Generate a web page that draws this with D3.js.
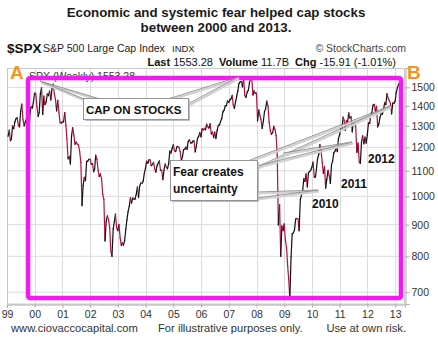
<!DOCTYPE html>
<html><head><meta charset="utf-8">
<script src="https://cdn.jsdelivr.net/npm/d3@7/dist/d3.min.js"></script>
<style>
body{margin:0;background:#fff;}
svg{display:block;font-family:"Liberation Sans",Arial,sans-serif;}
</style></head><body>
<svg id="c" width="438" height="343"></svg>
<script>
// ---- data ----
const titleLines = ["Economic and systemic fear helped cap stocks", "between 2000 and 2013."];
const startYear = 1999;
// S&P 500 weekly-chart readings, two per month (mid-month, month-end)
const spx = [
  // 1999
  1250,1280, 1230,1238, 1300,1286, 1320,1335, 1340,1302, 1295,1373, 1410,1329, 1300,1320, 1335,1283, 1247,1363, 1396,1389, 1421,1469,
  // 2000
  1465,1394, 1346,1366, 1464,1499, 1356,1452, 1407,1421, 1464,1455, 1481,1431, 1491,1518, 1465,1436, 1374,1429, 1368,1315, 1313,1320,
  // 2001
  1319,1366, 1302,1240, 1150,1160, 1128,1250, 1291,1256, 1214,1224, 1215,1211, 1182,1134, 966,1041, 1073,1060, 1139,1140, 1148,1148,
  // 2002
  1127,1130, 1096,1107, 1166,1147, 1103,1077, 1087,1067, 1007,990, 847,912, 930,916, 889,815, 800,886, 910,936, 890,880,
  // 2003
  901,856, 834,841, 834,848, 885,917, 945,964, 995,975, 994,990, 990,1008, 1036,996, 1039,1051, 1050,1058, 1089,1112,
  // 2004
  1140,1131, 1146,1145, 1121,1126, 1135,1107, 1094,1121, 1132,1141, 1101,1102, 1064,1104, 1128,1115, 1108,1130, 1184,1174, 1194,1212,
  // 2005
  1185,1181, 1201,1204, 1200,1181, 1143,1157, 1190,1192, 1201,1191, 1227,1234, 1220,1220, 1228,1229, 1180,1207, 1242,1250, 1268,1248,
  // 2006
  1287,1280, 1288,1281, 1308,1295, 1289,1311, 1262,1270, 1244,1270, 1240,1277, 1302,1304, 1322,1336, 1369,1378, 1400,1401, 1427,1418,
  // 2007
  1431,1438, 1456,1407, 1387,1421, 1452,1482, 1522,1531, 1533,1503, 1553,1455, 1445,1474, 1484,1527, 1548,1549, 1458,1481, 1468,1468,
  // 2008
  1325,1379, 1350,1331, 1288,1323, 1370,1386, 1425,1400, 1318,1280, 1260,1267, 1298,1283, 1255,1166, 899,969, 800,896, 880,903,
  // 2009
  850,826, 770,735, 683,798, 870,873, 882,919, 921,919, 880,988, 1005,1021, 1068,1057, 1087,1036, 1093,1096, 1102,1115,
  // 2010
  1136,1074, 1075,1105, 1150,1169, 1212,1187, 1136,1089, 1117,1031, 1065,1102, 1080,1049, 1125,1141, 1176,1183, 1200,1181, 1240,1258,
  // 2011
  1293,1286, 1343,1327, 1279,1326, 1320,1364, 1338,1345, 1271,1321, 1316,1292, 1178,1219, 1136,1131, 1224,1253, 1216,1247, 1219,1258,
  // 2012
  1315,1312, 1361,1366, 1404,1408, 1370,1398, 1295,1310, 1343,1362, 1356,1379, 1418,1407, 1466,1441, 1428,1412, 1359,1416, 1413,1426,
  // 2013
  1472,1498, 1519,1515, 1553
];
const yTicks = [700, 800, 900, 1000, 1100, 1200, 1300, 1400, 1500];
const xYears = d3.range(1999, 2014);
const yearLabels = ["99","00","01","02","03","04","05","06","07","08","09","10","11","12","13"];
const footer = ["www.ciovaccocapital.com", "For illustrative purposes only.", "Use at own risk."];
const yearNotes = [{t:"2010", x:312, y:208}, {t:"2011", x:341, y:188}, {t:"2012", x:368, y:163}];

// ---- build series with dates ----
const series = spx.map((v, i) => {
  const y = startYear + Math.floor(i / 24), m = Math.floor((i % 24) / 2);
  const d = (i % 2 === 0) ? new Date(y, m, 15) : new Date(y, m + 1, 0);
  return {d, v};
});

const svg = d3.select("#c");
const x = d3.scaleTime().domain([new Date(1999,0,1), new Date(2013,4,10)]).range([7, 405]);
const y = d3.scaleLog().domain([670, 1612]).range([304, 68]);

// grid
const g = svg.append("g");
g.selectAll(".hg").data(yTicks).join("line")
  .attr("x1", 7).attr("x2", 405).attr("y1", d => y(d)).attr("y2", d => y(d))
  .attr("stroke", "#dcdcdc").attr("stroke-width", 1);
g.selectAll(".vg").data(xYears).join("line")
  .attr("x1", d => Math.round(x(new Date(d,0,1)))+0.5).attr("x2", d => Math.round(x(new Date(d,0,1)))+0.5)
  .attr("y1", 68).attr("y2", 304).attr("stroke", "#dcdcdc");
// frame
svg.append("rect").attr("x", 7.5).attr("y", 68.5).attr("width", 397).attr("height", 235.5)
  .attr("fill", "none").attr("stroke", "#c8c8c8");

// right axis
const ya = d3.axisRight(y).tickValues(yTicks).tickFormat(d3.format("d")).tickSize(4).tickPadding(2);
const yAxisG = svg.append("g").attr("transform", "translate(405.5,0)").call(ya);
yAxisG.select(".domain").attr("stroke", "#aaa");
yAxisG.selectAll("line").attr("stroke", "#aaa");
yAxisG.selectAll("text").attr("font-size", 10.5).attr("fill", "#333").attr("font-family", "Liberation Sans, Arial, sans-serif");

// bottom axis
const xa = d3.axisBottom(x).tickValues(xYears.map(yy => new Date(yy,0,1)))
  .tickFormat((d, i) => yearLabels[i]).tickSize(3).tickPadding(3);
const xAxisG = svg.append("g").attr("transform", "translate(0,304.5)").call(xa);
xAxisG.select(".domain").attr("stroke", "#aaa");
xAxisG.selectAll("line").attr("stroke", "#aaa");
xAxisG.selectAll("text").attr("font-size", 10.5).attr("fill", "#333").attr("font-family", "Liberation Sans, Arial, sans-serif");

// price line: up segments black, down segments red
const segs = d3.pairs(series);
svg.append("g").selectAll("line").data(segs).join("line")
  .attr("x1", d => x(d[0].d)).attr("y1", d => y(d[0].v))
  .attr("x2", d => x(d[1].d)).attr("y2", d => y(d[1].v))
  .attr("stroke", d => d[1].v >= d[0].v ? "#111" : "#b0123c")
  .attr("stroke-width", 1.2).attr("stroke-linecap", "round");

// in-chart label
svg.append("text").attr("x", 29).attr("y", 80).attr("font-size", 10.5).attr("fill", "#333")
  .text("SPX (Weekly) 1553.28");

// header
svg.selectAll(".tl").data(titleLines).join("text")
  .attr("x", 216).attr("y", (d, i) => 17 + i * 15).attr("text-anchor", "middle")
  .attr("font-size", 13.3).attr("font-weight", "bold").attr("fill", "#1a1a1a").text(d => d);
svg.append("text").attr("x", 7).attr("y", 53).attr("font-size", 13.5).attr("font-weight", "bold").attr("fill", "#111").text("$SPX");
svg.append("text").attr("x", 43).attr("y", 52).attr("font-size", 10.5).attr("fill", "#222").text("S&P 500 Large Cap Index");
svg.append("text").attr("x", 172).attr("y", 52).attr("font-size", 9.5).attr("fill", "#222").text("INDX");
svg.append("text").attr("x", 406).attr("y", 52).attr("text-anchor", "end").attr("font-size", 10.5).attr("fill", "#444").text("© StockCharts.com");
const info = svg.append("text").attr("x", 396).attr("y", 66).attr("text-anchor", "end").attr("font-size", 11).attr("fill", "#111");
[["Last ", true], ["1553.28  ", false], ["Volume ", true], ["11.7B  ", false], ["Chg ", true], ["-15.91 (-1.01%)", false]]
  .forEach(([t, b]) => info.append("tspan").attr("font-weight", b ? "bold" : "normal").attr("xml:space","preserve").text(t));

// pink frame
svg.append("rect").attr("x", 28).attr("y", 78).attr("width", 373).attr("height", 220).attr("rx", 2)
  .attr("fill", "none").attr("stroke", "#f518f0").attr("stroke-width", 4.5);
svg.append("text").attr("x", 10).attr("y", 79).attr("font-size", 19).attr("font-weight", "bold").attr("fill", "#f7941e").text("A");
svg.append("text").attr("x", 407).attr("y", 79).attr("font-size", 19).attr("font-weight", "bold").attr("fill", "#f7941e").text("B");

// callout helpers
function wedge(pts) {
  svg.append("path").attr("d", "M" + pts.map(p => p.join(",")).join("L"))
    .attr("fill", "none").attr("stroke", "#d0d0d0").attr("stroke-width", 2).attr("transform", "translate(1,1.5)");
  svg.append("path").attr("d", "M" + pts.map(p => p.join(",")).join("L"))
    .attr("fill", "none").attr("stroke", "#8c8c8c").attr("stroke-width", 0.9);
}
function box(x0, y0, w, h) {
  svg.append("rect").attr("x", x0 + 2).attr("y", y0 + 2).attr("width", w).attr("height", h).attr("fill", "#bdbdbd");
  svg.append("rect").attr("x", x0 + 0.5).attr("y", y0 + 0.5).attr("width", w).attr("height", h)
    .attr("fill", "#fff").attr("stroke", "#8c8c8c").attr("stroke-width", 0.9);
}
// CAP ON STOCKS
wedge([[84, 99], [40, 81], [100, 99]]);
wedge([[168, 99], [238, 77], [188, 104]]);
box(83, 98, 105, 21);
svg.append("text").attr("x", 86).attr("y", 114).attr("font-size", 11.5).attr("font-weight", "bold").attr("fill", "#111").text("CAP ON STOCKS");

// Fear creates uncertainty
wedge([[250, 160], [390, 106], [257, 167]]);
wedge([[257, 166], [352, 142], [283, 153]]);
wedge([[257, 192], [318, 190], [257, 198]]);
box(170, 160, 87, 40);
svg.append("text").attr("x", 173).attr("y", 176).attr("font-size", 12).attr("font-weight", "bold").attr("fill", "#111").text("Fear creates");
svg.append("text").attr("x", 173).attr("y", 193).attr("font-size", 12).attr("font-weight", "bold").attr("fill", "#111").text("uncertainty");

svg.selectAll(".yn").data(yearNotes).join("text")
  .attr("x", d => d.x).attr("y", d => d.y).attr("font-size", 12).attr("font-weight", "bold").attr("fill", "#111").text(d => d.t);

// footer
svg.append("text").attr("x", 11).attr("y", 332).attr("font-size", 11.2).attr("fill", "#333").text(footer[0]);
svg.append("text").attr("x", 158).attr("y", 332).attr("font-size", 11.2).attr("fill", "#333").text(footer[1]);
svg.append("text").attr("x", 406).attr("y", 332).attr("text-anchor", "end").attr("font-size", 11.2).attr("fill", "#333").text(footer[2]);
</script>
</body></html>
